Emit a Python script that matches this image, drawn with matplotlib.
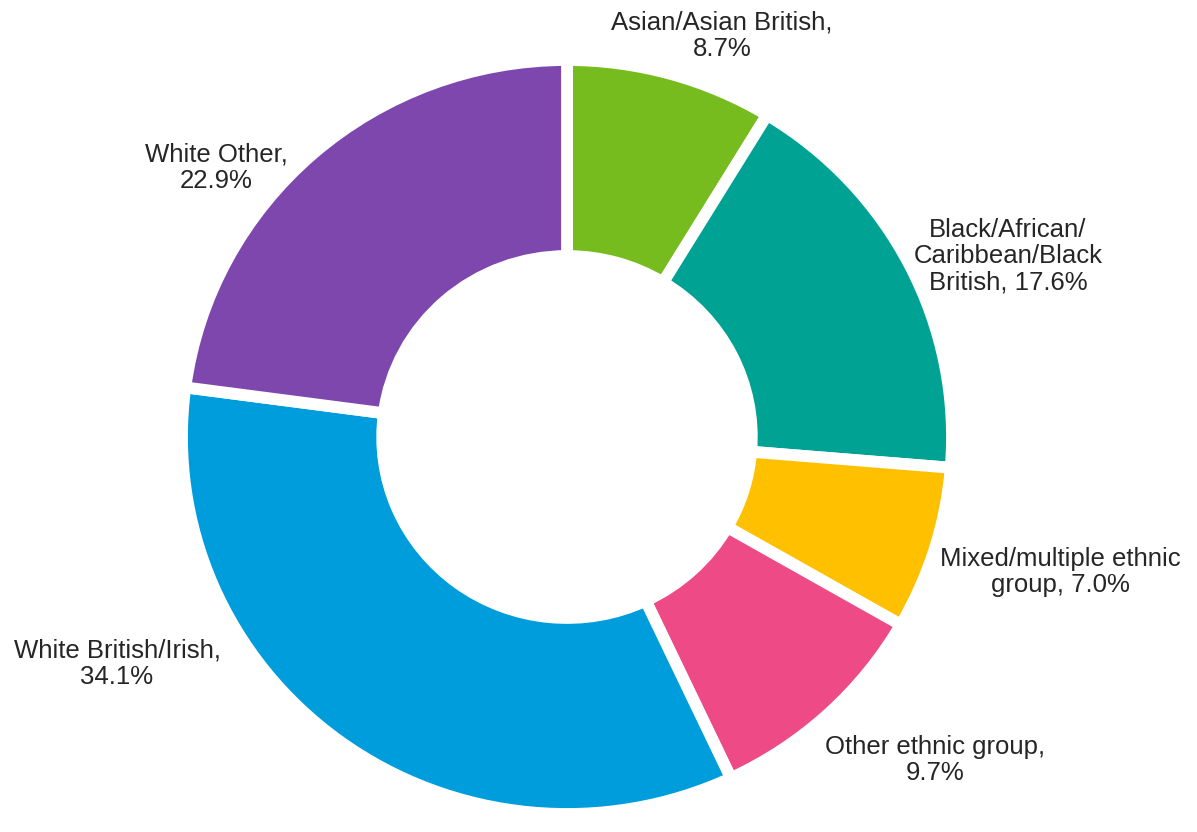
import matplotlib
matplotlib.use("Agg")
import matplotlib.pyplot as plt

# Ethnic group shares (%), clockwise from 12 o'clock
groups = [
    "Asian/Asian British",
    "Black/African/Caribbean/Black British",
    "Mixed/multiple ethnic group",
    "Other ethnic group",
    "White British/Irish",
    "White Other",
]
shares = [8.7, 17.6, 7.0, 9.7, 34.1, 22.9]
label_texts = [
    "Asian/Asian British,\n8.7%",
    "Black/African/\nCaribbean/Black\nBritish, 17.6%",
    "Mixed/multiple ethnic\ngroup, 7.0%",
    "Other ethnic group,\n9.7%",
    "White British/Irish,\n34.1%",
    "White Other,\n22.9%",
]
colors = ["#77BC1F", "#00A393", "#FFC000", "#EE4A86", "#009DDC", "#7D47AD"]

W, H = 1197, 832
fig = plt.figure(figsize=(W / 100, H / 100), dpi=100)
fig.patch.set_facecolor("white")

# Ring centre and outer radii in pixels
cx, cy, rx, ry = 567, 437, 385, 377
ax = fig.add_axes([(cx - rx) / W, (H - cy - ry) / H, 2 * rx / W, 2 * ry / H])
ax.pie(
    shares,
    colors=colors,
    startangle=90,
    counterclock=False,
    radius=1.0,
    wedgeprops=dict(width=0.52, edgecolor="white", linewidth=8.5),
)
ax.set_xlim(-1, 1)
ax.set_ylim(-1, 1)
ax.set_aspect("auto")
ax.axis("off")

# Label positions (pixels from top-left)
label_pos = [(722, 36), (1008, 256), (1060, 572), (935, 760), (117, 664), (216, 168)]
for txt, (px, py) in zip(label_texts, label_pos):
    fig.text(px / W, 1 - py / H, txt, ha="center", va="center",
             fontsize=18.5, family="Liberation Sans", color="#262626",
             linespacing=1.13)

fig.savefig("out.png", dpi=100, facecolor="white")
